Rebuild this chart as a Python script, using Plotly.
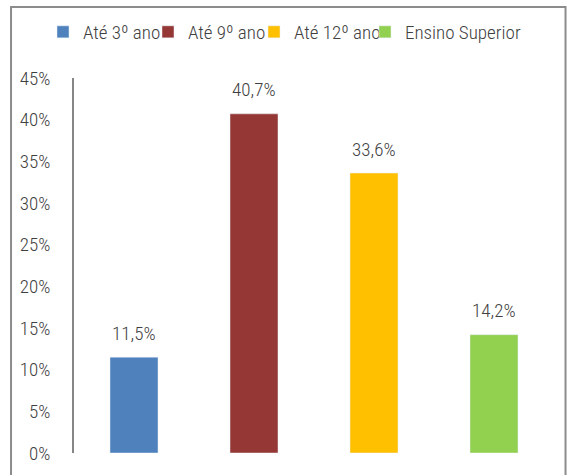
import plotly.graph_objects as go

categories = ["Até 3º ano", "Até 9º ano", "Até 12º ano", "Ensino Superior"]
values = [11.5, 40.7, 33.6, 14.2]
colors = ["#4F81BD", "#953735", "#FFC000", "#92D050"]
y_ticks = [0, 5, 10, 15, 20, 25, 30, 35, 40, 45]
y_ticklabels = [f"{v}%" for v in y_ticks]

FONT = "Roboto Condensed, Roboto, sans-serif"
TXT = "#404040"
FW = 300
FS = 19

legend_ids = ["legend", "legend2", "legend3", "legend4"]
legend_x = [(43 - 74) / 480, (148 - 74) / 480, (254 - 74) / 480, (365 - 74) / 480]

fig = go.Figure()
for c, v, col, lg in zip(categories, values, colors, legend_ids):
    fig.add_trace(go.Bar(x=[c], y=[v], name=c, marker_color=col, width=0.4,
                         hoverinfo="skip", legend=lg))

for c, v in zip(categories, values):
    fig.add_annotation(x=c, y=v, text=f"{v:.1f}".replace(".", ",") + "%",
                       showarrow=False, yshift=24, yanchor="middle",
                       font=dict(family=FONT, size=FS, color=TXT, weight=FW))

fig.add_shape(type="rect", xref="paper", yref="paper",
              x0=-0.1312, x1=1.024, y0=-0.2, y1=1.1893,
              line=dict(color="#8C8C8C", width=2), layer="above")

legend_common = dict(orientation="h", y=1.1227, xanchor="left", yanchor="middle",
                     itemwidth=30, font=dict(family=FONT, size=FS, color=TXT, weight=FW),
                     bgcolor="rgba(0,0,0,0)")

fig.update_layout(
    width=567, height=475,
    margin=dict(l=74, r=13, t=78, b=22, autoexpand=False),
    paper_bgcolor="white", plot_bgcolor="white",
    font=dict(family=FONT, size=FS, color=TXT, weight=FW),
    barmode="overlay",
    showlegend=True,
    legend=dict(x=legend_x[0], **legend_common),
    legend2=dict(x=legend_x[1], **legend_common),
    legend3=dict(x=legend_x[2], **legend_common),
    legend4=dict(x=legend_x[3], **legend_common),
    xaxis=dict(type="category", categoryorder="array", categoryarray=categories,
               showticklabels=False, showline=False, showgrid=False, zeroline=False),
    yaxis=dict(range=[0, 45], tickvals=y_ticks, ticktext=y_ticklabels,
               showline=True, linecolor="#868686", linewidth=1.5,
               showgrid=False, zeroline=False, ticks="", ticklabelstandoff=18,
               tickfont=dict(family=FONT, size=FS, color=TXT, weight=FW)),
)

fig.write_html("out.html", config={"displayModeBar": False},
               post_script="document.body.style.margin='0px';")
